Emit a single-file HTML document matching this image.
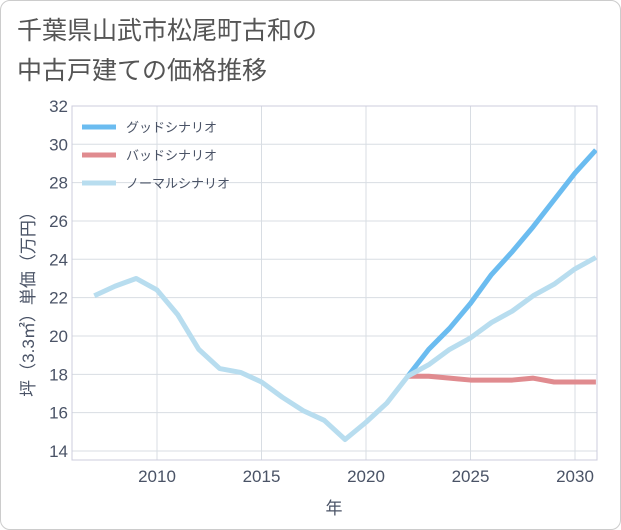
<!DOCTYPE html>
<html><head><meta charset="utf-8"><style>
body{margin:0;background:#fff;font-family:"Liberation Sans","Noto Sans CJK JP",sans-serif;}
#card{position:absolute;left:0;top:0;width:619px;height:528px;border:1px solid #ccc;border-radius:10px;background:#fff;}
#title{position:absolute;left:17px;top:11px;font-size:25px;line-height:40px;color:#555;}
</style></head><body>
<div id="card"></div>
<div id="title">千葉県山武市松尾町古和の<br>中古戸建ての価格推移</div>
<svg id="chart" width="621" height="530" style="position:absolute;left:0;top:0"></svg>
<script>
const years=[2007,2008,2009,2010,2011,2012,2013,2014,2015,2016,2017,2018,2019,2020,2021,2022,2023,2024,2025,2026,2027,2028,2029,2030,2031];
const normalVals=[22.1,22.6,23.0,22.4,21.1,19.3,18.3,18.1,17.6,16.8,16.1,15.6,14.6,15.5,16.5,17.9,18.5,19.3,19.9,20.7,21.3,22.1,22.7,23.5,24.1];
const goodYears=[2022,2023,2024,2025,2026,2027,2028,2029,2030,2031];
const goodVals=[17.9,19.3,20.4,21.7,23.2,24.4,25.7,27.1,28.5,29.7];
const badVals=[17.9,17.9,17.8,17.7,17.7,17.7,17.8,17.6,17.6,17.6];
const yTicks=[14,16,18,20,22,24,26,28,30,32];
const xTicks=[2010,2015,2020,2025,2030];
const X0=72,X1=597,Y0=106,Y1=460;
const TC='#4a5366';
const x=v=>157+(v-2010)*20.9;
const y=v=>451-(v-14)*19.17;
const svg=document.getElementById('chart');
const NS='http://www.w3.org/2000/svg';
function mk(t,a){const e=document.createElementNS(NS,t);for(const k in a)e.setAttribute(k,a[k]);svg.appendChild(e);return e;}
const defs=mk('defs',{});const cp=document.createElementNS(NS,'clipPath');cp.setAttribute('id','c');defs.appendChild(cp);
const r=document.createElementNS(NS,'rect');r.setAttribute('x',X0);r.setAttribute('y',Y0-5);r.setAttribute('width',X1-X0);r.setAttribute('height',Y1-Y0+5);cp.appendChild(r);
yTicks.forEach(v=>{const l=mk('line',{x1:X0,x2:X1,y1:y(v),y2:y(v),stroke:'#d8dde3','stroke-width':1});

const t=mk('text',{x:X0-4,y:y(v)+6,'text-anchor':'end','font-size':17,fill:TC});t.textContent=v;
});
xTicks.forEach(v=>{const l=mk('line',{x1:x(v),x2:x(v),y1:Y0,y2:Y1,stroke:'#d8dde3','stroke-width':1});

const t=mk('text',{x:x(v),y:Y1+22,'text-anchor':'middle','font-size':17,fill:TC});t.textContent=v;
});
const ax=mk('rect',{x:X0,y:Y0,width:X1-X0,height:Y1-Y0,fill:'none',stroke:'#ccd',"stroke-width":1});

function line(xs,vs,color,name){const p=mk('polyline',{points:xs.map((v,i)=>x(v)+','+y(vs[i])).join(' '),fill:'none',stroke:color,'stroke-width':5,'stroke-linejoin':'round','clip-path':'url(#c)'});
}
line(goodYears,goodVals,'#6bbcf0','good-scenario-line');
line(goodYears,badVals,'#e08b8f','bad-scenario-line');
line(years,normalVals,'#b8ddef','normal-scenario-line');
[['グッドシナリオ','#6bbcf0',127],['バッドシナリオ','#e08b8f',155],['ノーマルシナリオ','#b8ddef',183]].forEach(([n,c,yy])=>{
const l=mk('line',{x1:82,x2:116,y1:yy,y2:yy,stroke:c,'stroke-width':5});
const t=mk('text',{x:126,y:yy+5,'font-size':13,fill:TC});t.textContent=n;});
const xt=mk('text',{x:334,y:514,'text-anchor':'middle','font-size':17,fill:TC});xt.textContent='年';

const yt=mk('text',{x:0,y:0,'text-anchor':'middle','font-size':17,fill:TC,transform:'translate(34,300) rotate(-90)'});yt.textContent='坪（3.3㎡）単価（万円）';

</script>
</body></html>
